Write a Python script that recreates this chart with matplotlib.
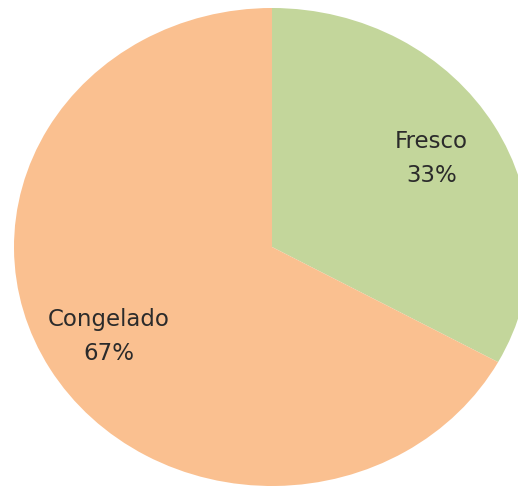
import matplotlib
matplotlib.use("Agg")
import matplotlib.pyplot as plt

categories = ["Fresco", "Congelado"]
values = [33, 67]
colors = ["#C3D69B", "#FAC090"]
label_pos = [(0.618, 0.37), (-0.634, -0.375)]

W, H = 518, 491
fig = plt.figure(figsize=(W / 100, H / 100), dpi=100)
cx, cy = 272, 491 - 247
rx, ry = 258, 239
ax = fig.add_axes([(cx - rx) / W, (cy - ry) / H, 2 * rx / W, 2 * ry / H])
ax.pie(values, colors=colors, startangle=90, counterclock=False,
       radius=1.0, wedgeprops=dict(linewidth=0))
ax.set_aspect("auto")
ax.set_xlim(-1, 1)
ax.set_ylim(-1, 1)
ax.axis("off")

total = sum(values)
for name, v, (x, y) in zip(categories, values, label_pos):
    ax.text(x, y, f"{name}\n{round(100 * v / total)}%", ha="center", va="center",
            fontsize=16.5, color="#2b2b2b", family=["DejaVu Sans"],
            linespacing=1.6)

fig.savefig("out.png", dpi=100)
